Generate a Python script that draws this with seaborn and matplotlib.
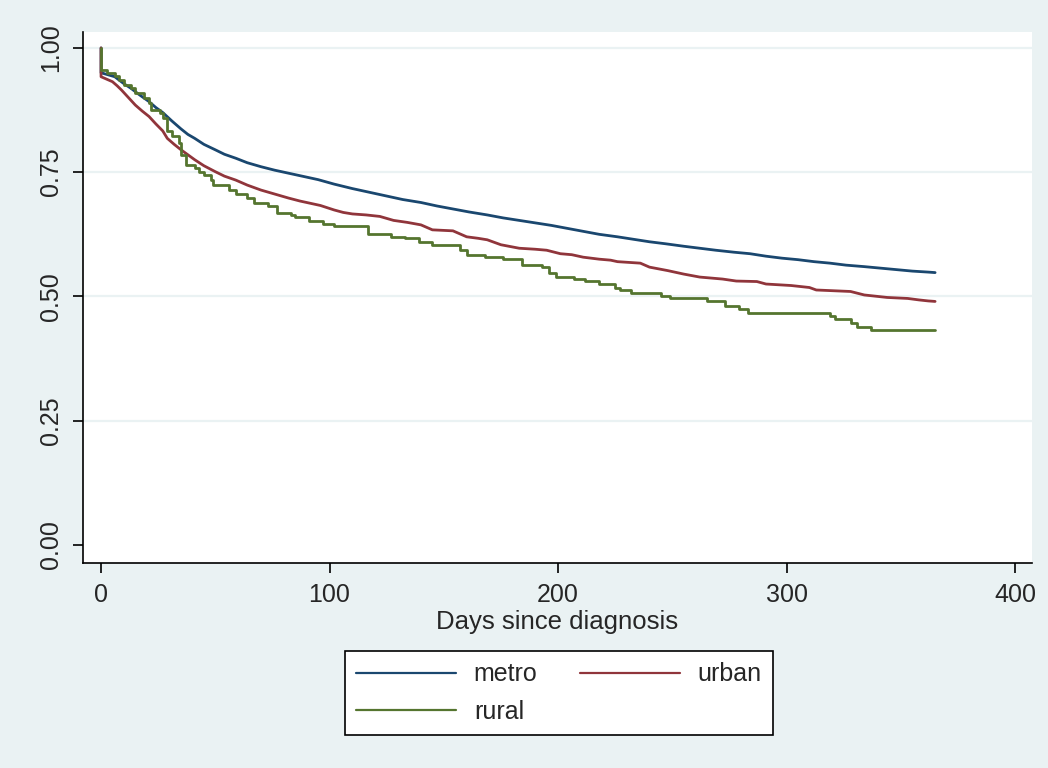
import numpy as np
import pandas as pd
import seaborn as sns
import matplotlib.pyplot as plt

sns.set_style("ticks")
plt.rcParams['font.family'] = ['Liberation Sans', 'DejaVu Sans']

# Kaplan-Meier estimates (day, survival)
metro_days = [0, 0, 3, 6, 10, 13, 17, 21, 24, 27, 31, 35, 38, 41, 45, 50, 54, 59, 64, 70,
              76, 82, 88, 95, 102, 110, 118, 125, 132, 140, 147, 154, 161, 169, 176, 183,
              190, 197, 204, 211, 218, 226, 233, 240, 247, 255, 262, 269, 277, 284, 291,
              298, 305, 312, 319, 326, 334, 341, 348, 355, 362, 365]
metro_surv = [1.000, 0.950, 0.946, 0.942, 0.928, 0.919, 0.905, 0.892, 0.880, 0.870, 0.853,
              0.837, 0.826, 0.818, 0.806, 0.795, 0.786, 0.778, 0.769, 0.761, 0.754, 0.748,
              0.742, 0.735, 0.726, 0.717, 0.709, 0.702, 0.695, 0.689, 0.682, 0.676, 0.670,
              0.664, 0.658, 0.653, 0.648, 0.643, 0.637, 0.631, 0.625, 0.620, 0.615, 0.610,
              0.606, 0.601, 0.597, 0.593, 0.589, 0.586, 0.581, 0.577, 0.574, 0.570, 0.567,
              0.563, 0.560, 0.557, 0.554, 0.551, 0.549, 0.548]

urban_days = [0, 0, 3, 5, 7, 9, 12, 15, 18, 21, 24, 27, 29, 32, 35, 38, 41, 45, 50, 54, 59,
              64, 70, 76, 82, 87, 91, 96, 102, 106, 110, 116, 122, 128, 134, 140, 145, 154,
              160, 165, 169, 175, 183, 190, 195, 201, 206, 211, 218, 223, 226, 236, 240, 248,
              255, 262, 272, 278, 287, 291, 302, 310, 313, 328, 334, 344, 353, 358, 362, 365]
urban_surv = [1.000, 0.942, 0.936, 0.932, 0.924, 0.915, 0.900, 0.885, 0.873, 0.862, 0.847,
              0.833, 0.818, 0.806, 0.795, 0.785, 0.775, 0.763, 0.751, 0.742, 0.734, 0.724,
              0.714, 0.706, 0.698, 0.692, 0.688, 0.683, 0.674, 0.669, 0.666, 0.664, 0.661,
              0.653, 0.649, 0.644, 0.634, 0.632, 0.620, 0.617, 0.614, 0.604, 0.597, 0.595,
              0.593, 0.586, 0.584, 0.579, 0.575, 0.573, 0.570, 0.567, 0.559, 0.552, 0.545,
              0.539, 0.535, 0.531, 0.530, 0.525, 0.522, 0.518, 0.513, 0.510, 0.503, 0.498,
              0.496, 0.493, 0.491, 0.490]

rural_days = [0, 0, 2.5, 6, 8, 10, 13, 15, 19, 21, 22, 26, 27, 29, 31, 34, 35, 37, 41, 43,
              45, 48, 49, 56, 59, 64, 67, 73, 77, 83, 85, 91, 97, 102, 117, 127, 133, 139,
              145, 157, 160, 168, 176, 184, 193, 196, 199, 207, 212, 218, 225, 227, 232,
              245, 249, 265, 273, 279, 283, 319, 321, 328, 331, 337, 365]
rural_surv = [1.000, 0.956, 0.950, 0.944, 0.935, 0.925, 0.919, 0.909, 0.899, 0.889, 0.875,
              0.870, 0.859, 0.832, 0.822, 0.808, 0.785, 0.765, 0.758, 0.751, 0.744, 0.734,
              0.724, 0.714, 0.706, 0.698, 0.688, 0.681, 0.667, 0.664, 0.659, 0.651, 0.646,
              0.641, 0.625, 0.620, 0.617, 0.610, 0.604, 0.594, 0.584, 0.580, 0.575, 0.563,
              0.559, 0.548, 0.540, 0.535, 0.531, 0.525, 0.518, 0.512, 0.506, 0.501, 0.496,
              0.490, 0.480, 0.474, 0.467, 0.461, 0.454, 0.446, 0.439, 0.433, 0.433]

groups = ["metro", "urban", "rural"]
colors = {"metro": "#1A476F", "urban": "#90353B", "rural": "#55752F"}
# metro/urban have many tiny steps and read as smooth curves; rural steps are visible
styles = {"metro": "default", "urban": "default", "rural": "steps-post"}
y_ticks = [0, 0.25, 0.5, 0.75, 1.0]
x_ticks = [0, 100, 200, 300, 400]

df = pd.concat([
    pd.DataFrame({"day": metro_days, "surv": metro_surv, "group": "metro"}),
    pd.DataFrame({"day": urban_days, "surv": urban_surv, "group": "urban"}),
    pd.DataFrame({"day": rural_days, "surv": rural_surv, "group": "rural"}),
], ignore_index=True)

bg = "#EAF2F3"
fig = plt.figure(figsize=(10.48, 7.68), dpi=100, facecolor=bg)
ax = fig.add_axes([83/1048, 1-563/768, (1032-83)/1048, (563-32)/768])
ax.set_facecolor("white")

for g in groups:
    sns.lineplot(data=df[df.group == g], x="day", y="surv", color=colors[g], label=g,
                 estimator=None, sort=False, drawstyle=styles[g], linewidth=2.0, ax=ax)

ax.set_xlim(-7.9, 407.4)
ax.set_ylim(-0.0362, 1.032)
ax.set_xticks(x_ticks)
ax.set_yticks(y_ticks)
ax.set_yticklabels(["%.2f" % v for v in y_ticks], rotation=90, va="center")
ax.tick_params(labelsize=18, length=7.5, width=1.2, color="black", pad=7)
ax.grid(axis="y", color=bg, linewidth=1.6)
ax.yaxis.get_gridlines()[0].set_visible(False)
ax.set_axisbelow(True)
for s in ["top", "right"]:
    ax.spines[s].set_visible(False)
for s in ["left", "bottom"]:
    ax.spines[s].set_color("black")
    ax.spines[s].set_linewidth(1.2)

ax.set_xlabel("Days since diagnosis", fontsize=18.5, labelpad=2)
ax.set_ylabel("")

handles, labels = ax.get_legend_handles_labels()
ax.get_legend().remove()
hmap = dict(zip(labels, handles))
order = ["metro", "rural", "urban"]
leg = fig.legend([hmap[k] for k in order], order, loc="center",
                 bbox_to_anchor=(559/1048, 1-693/768), ncol=2, fontsize=18,
                 handlelength=4.0, handletextpad=0.7, columnspacing=1.7,
                 labelspacing=0.54, borderpad=0.45, frameon=True, fancybox=False,
                 edgecolor="black", framealpha=1)
leg.get_frame().set_linewidth(1.2)
for line in leg.get_lines():
    line.set_linewidth(1.6)

plt.savefig("out.png", dpi=100, facecolor=bg)
